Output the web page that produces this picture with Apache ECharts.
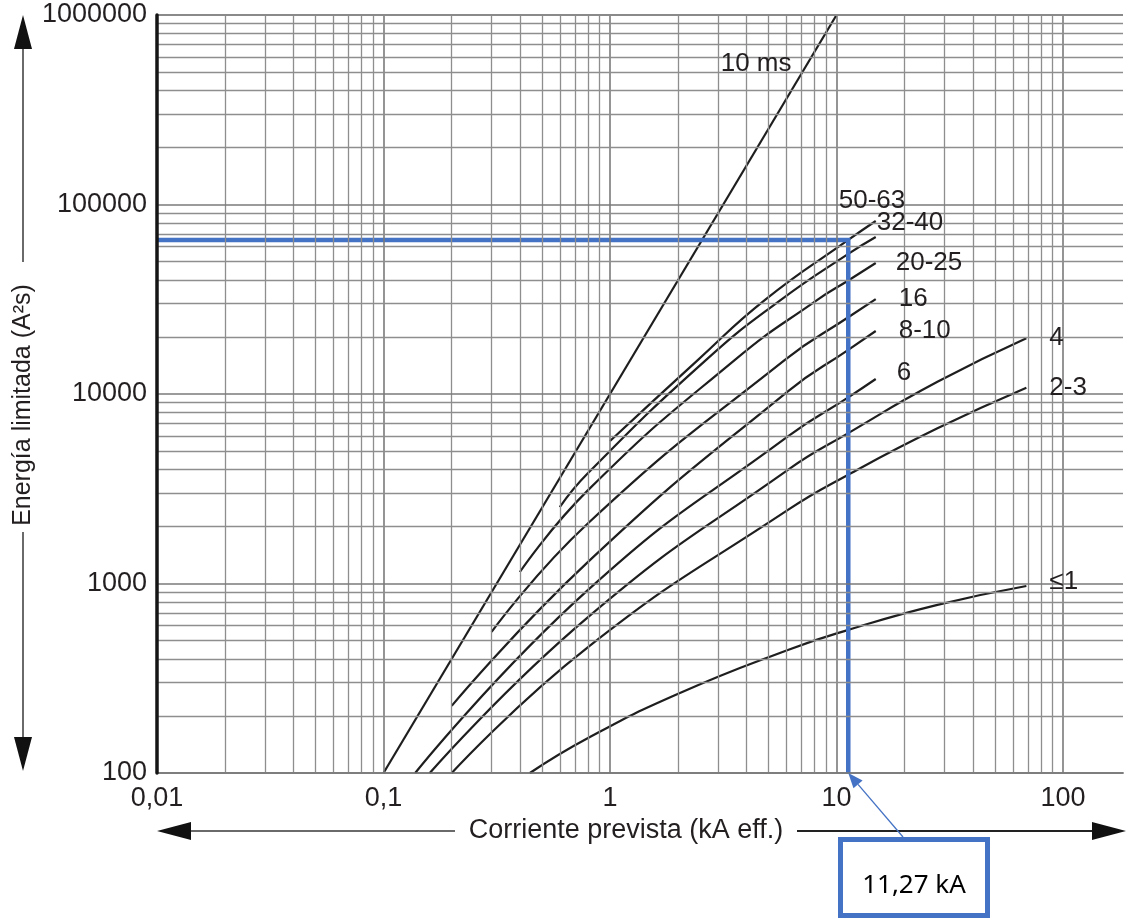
<!DOCTYPE html>
<html>
<head>
<meta charset="utf-8">
<script src="https://cdn.jsdelivr.net/npm/echarts@6/dist/echarts.min.js"></script>
<style>
html,body{margin:0;padding:0;background:#ffffff;}
#chart{width:1126px;height:922px;}
</style>
</head>
<body>
<div id="chart"></div>
<script>
// ---------------- data ----------------
const xTickValues = [0.01, 0.1, 1, 10, 100];
const xTickLabels = ['0,01', '0,1', '1', '10', '100'];
const yTickValues = [100, 1000, 10000, 100000, 1000000];
const yTickLabels = ['100', '1000', '10000', '100000', '1000000'];

const xGridDecades = [0.01, 0.1, 1, 10];
const yGridDecades = [100, 1000, 10000, 100000];
const gridMantissas = [1, 2, 3, 4, 5, 6, 7, 8, 9];

const curveNames = ['10 ms', '50-63', '32-40', '20-25', '16', '8-10', '6', '4', '2-3', '≤1'];

// [kA, A²s]
const c10ms  = [[0.1, 100], [10, 1000000]];
const c50_63 = [[1, 5650], [2.44, 15100], [4.82, 31300], [11.27, 65000], [14.9, 81800]];
const c32_40 = [[0.6, 2530], [0.8, 3830], [2.65, 15100], [5.66, 31300], [11.27, 54900], [14.9, 67400]];
const c20_25 = [[0.4, 1150], [0.8, 3110], [3.55, 15100], [8.2, 31300], [11.27, 39700], [14.9, 49100]];
const c16    = [[0.3, 555], [0.8, 2080], [5.9, 15100], [11.27, 25400], [14.9, 31700]];
const c8_10  = [[0.2, 226], [0.8, 1300], [6.08, 10300], [11.27, 17100], [14.9, 21500]];
const c6     = [[0.138, 100], [0.8, 925], [6.08, 5960], [11.27, 9600], [14.9, 12000]];
const c4     = [[0.16, 100], [0.8, 665], [6.08, 3970], [11.27, 6220], [27.9, 11600], [68.9, 19700]];
const c2_3   = [[0.2, 100], [0.8, 462], [6.08, 2440], [11.27, 3750], [27.9, 6590], [68.9, 10800]];
const cLe1   = [[0.443, 100], [0.8, 153], [2, 262], [6.1, 446], [11.27, 569], [27.9, 771], [68.9, 970]];

const curveData = [c10ms, c50_63, c32_40, c20_25, c16, c8_10, c6, c4, c2_3, cLe1];

const markerX = [0.01, 11.27, 11.27];
const markerY = [65000, 65000, 100];
const annotationText = '11,27 kA';

const xTitle = 'Corriente prevista (kA eff.)';
const yTitle = 'Energía limitada (A²s)';

// ---------------- styles ----------------
const labelStyle = {
  '10 ms': { dx: -45, dy: 49, align: 'right' },
  '50-63': { dx: -37, dy: -20, align: 'left' },
  '32-40': { dx: 1, dy: -14, align: 'left' },
  '20-25': { dx: 20, dy: 0, align: 'left' },
  '16':    { dx: 23, dy: 0, align: 'left' },
  '8-10':  { dx: 23, dy: 0, align: 'left' },
  '6':     { dx: 21, dy: -6, align: 'left' },
  '4':     { dx: 23, dy: 0, align: 'left' },
  '2-3':   { dx: 23, dy: 0, align: 'left' },
  '≤1':    { dx: 23, dy: -4, align: 'left' }
};
const FONT = '"Liberation Sans", Arial, Helvetica, sans-serif';
const TXT = '#231f20';
const BLUE = '#4472C4';

function labelFor(values, labels, v) {
  for (let i = 0; i < values.length; i++) {
    if (Math.abs(Math.log10(v) - Math.log10(values[i])) < 1e-6) return labels[i];
  }
  return '';
}

const vLines = [];
xGridDecades.forEach(d => gridMantissas.forEach(m => {
  const v = d * m;
  if (v > 0.0100001) vLines.push({ xAxis: v, lineStyle: { color: m === 1 ? '#7a7a7a' : '#8e8e8e', width: m === 1 ? 1.6 : 1.3 } });
}));
vLines.push({ xAxis: 100, lineStyle: { color: '#7a7a7a', width: 1.6 } });
const hLines = [];
yGridDecades.forEach(d => gridMantissas.forEach(m => {
  const v = d * m;
  hLines.push({ yAxis: v, lineStyle: { color: m === 1 ? '#7a7a7a' : '#8e8e8e', width: m === 1 ? 1.6 : 1.3 } });
}));
hLines.push({ yAxis: 1000000, lineStyle: { color: '#8a8a8a', width: 2 } });

const chart = echarts.init(document.getElementById('chart'), null, { renderer: 'canvas' });

const series = [{
  name: 'grid',
  type: 'line',
  data: [],
  z: 1,
  silent: true,
  markLine: {
    silent: true,
    animation: false,
    symbol: ['none', 'none'],
    label: { show: false },
    emphasis: { disabled: true },
    lineStyle: { type: 'solid' },
    data: vLines.concat(hLines)
  }
}];

curveNames.forEach((n, i) => {
  series.push({
    name: n,
    type: 'line',
    data: curveData[i],
    showSymbol: false,
    symbol: 'none',
    smooth: 0.5,
    z: 3,
    silent: true,
    lineStyle: { color: '#1e1e1e', width: 2.2 }
  });
});

series.push({
  name: 'marker',
  type: 'line',
  data: markerX.map((x, i) => [x, markerY[i]]),
  showSymbol: false,
  symbol: 'none',
  z: 4,
  silent: true,
  lineStyle: { color: BLUE, width: 4.5, cap: 'butt', join: 'miter' }
});

chart.setOption({
  animation: false,
  backgroundColor: '#ffffff',
  grid: { left: 157, right: 0, top: 15, bottom: 149, containLabel: false },
  xAxis: {
    type: 'log',
    logBase: 10,
    min: 0.01,
    max: 184,
    axisLine: { show: true, lineStyle: { color: '#8a8a8a', width: 2 } },
    axisTick: { show: false },
    splitLine: { show: false },
    axisLabel: {
      fontSize: 27, fontFamily: FONT, color: TXT, margin: 12,
      formatter: v => labelFor(xTickValues, xTickLabels, v)
    }
  },
  yAxis: {
    type: 'log',
    logBase: 10,
    min: 100,
    max: 1000000,
    z: 10,
    axisLine: { show: true, lineStyle: { color: '#151515', width: 3.5 } },
    axisTick: { show: false },
    splitLine: { show: false },
    axisLabel: {
      fontSize: 27, fontFamily: FONT, color: TXT, margin: 10,
      formatter: v => labelFor(yTickValues, yTickLabels, v)
    }
  },
  series: series
});

// ---------------- annotations ----------------
const g = [];
curveNames.forEach((n, i) => {
  const d = curveData[i];
  const p = chart.convertToPixel({ gridIndex: 0 }, d[d.length - 1]);
  const s = labelStyle[n];
  g.push({
    type: 'text', x: p[0] + s.dx, y: p[1] + s.dy, z: 20,
    style: { text: n, font: '26px ' + FONT, fill: TXT, align: s.align, verticalAlign: 'middle' }
  });
});

// y-axis title and arrows
const yAxX = 23;
g.push({ type: 'text', x: yAxX, y: 405, rotation: Math.PI / 2, z: 20,
  style: { text: yTitle, font: '25px ' + FONT, fill: TXT, align: 'center', verticalAlign: 'middle' } });
g.push({ type: 'line', z: 20, shape: { x1: yAxX, y1: 46, x2: yAxX, y2: 262 }, style: { stroke: '#6a6a6a', lineWidth: 2 } });
g.push({ type: 'polygon', z: 20, shape: { points: [[yAxX, 15], [yAxX - 9, 49], [yAxX + 9, 49]] }, style: { fill: '#111' } });
g.push({ type: 'line', z: 20, shape: { x1: yAxX, y1: 532, x2: yAxX, y2: 740 }, style: { stroke: '#6a6a6a', lineWidth: 2 } });
g.push({ type: 'polygon', z: 20, shape: { points: [[yAxX, 771], [yAxX - 9, 737], [yAxX + 9, 737]] }, style: { fill: '#111' } });

// x-axis title and arrows
const xAxY = 831;
g.push({ type: 'text', x: 626, y: xAxY, z: 20,
  style: { text: xTitle, font: '27px ' + FONT, fill: TXT, align: 'center', verticalAlign: 'middle' } });
g.push({ type: 'line', z: 20, shape: { x1: 188, y1: xAxY, x2: 455, y2: xAxY }, style: { stroke: '#6a6a6a', lineWidth: 2 } });
g.push({ type: 'polygon', z: 20, shape: { points: [[157, xAxY], [191, xAxY - 9], [191, xAxY + 9]] }, style: { fill: '#111' } });
g.push({ type: 'line', z: 20, shape: { x1: 797, y1: xAxY, x2: 1096, y2: xAxY }, style: { stroke: '#222', lineWidth: 2 } });
g.push({ type: 'polygon', z: 20, shape: { points: [[1126, xAxY], [1092, xAxY - 9], [1092, xAxY + 9]] }, style: { fill: '#111' } });

// annotation box + arrow
const tip = chart.convertToPixel({ gridIndex: 0 }, [markerX[2], markerY[2]]);
const tail = [903, 837];
const dxA = tip[0] - tail[0], dyA = tip[1] - tail[1];
const lenA = Math.sqrt(dxA * dxA + dyA * dyA);
const ux = dxA / lenA, uy = dyA / lenA;
const hb = [tip[0] - 15 * ux, tip[1] - 15 * uy];
const nx = -uy, ny = ux;
g.push({ type: 'line', z: 20, shape: { x1: tail[0], y1: tail[1], x2: hb[0], y2: hb[1] }, style: { stroke: BLUE, lineWidth: 1.3 } });
g.push({ type: 'polygon', z: 20, shape: { points: [[tip[0], tip[1]], [hb[0] + 6 * nx, hb[1] + 6 * ny], [hb[0] - 6 * nx, hb[1] - 6 * ny]] }, style: { fill: BLUE } });
g.push({ type: 'rect', z: 21, shape: { x: 840.5, y: 839.5, width: 147, height: 76 }, style: { fill: '#fff', stroke: BLUE, lineWidth: 5 } });
g.push({ type: 'text', x: 914, y: 886, z: 22,
  style: { text: annotationText, font: '26px "Noto Sans", "Open Sans", sans-serif', fill: '#000', align: 'center', verticalAlign: 'middle' } });

chart.setOption({ graphic: g });
</script>
</body>
</html>
